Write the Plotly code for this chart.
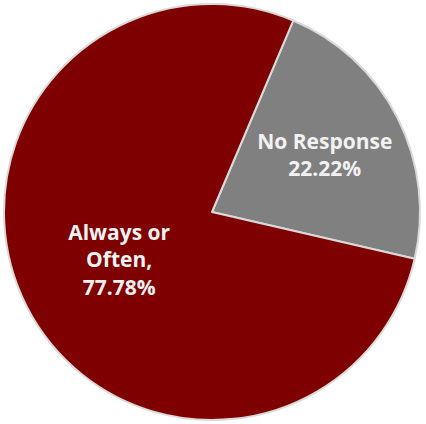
import plotly.graph_objects as go

labels = ["No Response", "Always or Often"]
values = [22.22, 77.78]
texts = ["No Response<br>22.22%", "Always or<br>Often,<br>77.78%"]
colors = ["#808080", "#7f0000"]

fig = go.Figure(go.Pie(
    labels=labels,
    values=values,
    text=texts,
    textinfo="text",
    textposition="inside",
    insidetextorientation="horizontal",
    sort=False,
    direction="clockwise",
    rotation=23,
    marker=dict(colors=colors, line=dict(color="#d9d9d9", width=2)),
    textfont=dict(family="Open Sans", size=21, color="#f2f2f2", weight="bold"),
    showlegend=False,
    hoverinfo="skip",
))
fig.update_layout(
    width=426, height=424,
    margin=dict(l=4, r=6, t=2, b=2),
    paper_bgcolor="white",
    uniformtext=dict(minsize=21, mode="show"),
)
fig.write_html("out.html")
